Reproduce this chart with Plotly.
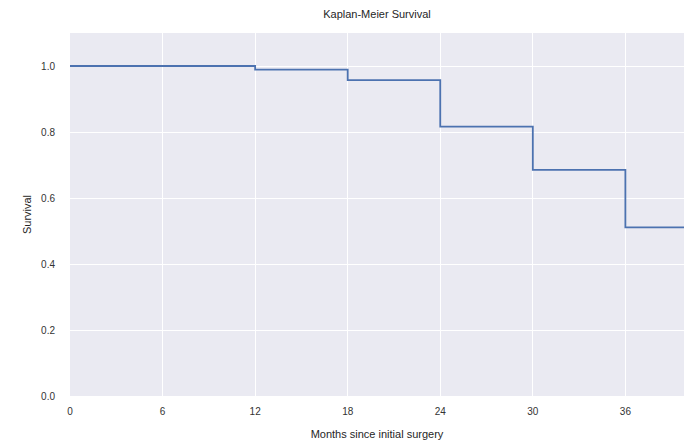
import plotly.graph_objects as go

# Kaplan-Meier survival estimate: step times (months) and survival after each step
months = [0, 12, 18, 24, 30, 36, 39.8]
survival = [1.0, 0.989, 0.957, 0.816, 0.685, 0.511, 0.511]

x_ticks = [0, 6, 12, 18, 24, 30, 36]
y_ticks = [0.0, 0.2, 0.4, 0.6, 0.8, 1.0]

fig = go.Figure()
fig.add_trace(go.Scatter(
    x=months, y=survival,
    mode="lines",
    line=dict(shape="hv", color="#4C72B0", width=1.8),
    showlegend=False,
))

axis_font = dict(family="Liberation Sans, Arial, sans-serif", size=10, color="#333333")

fig.update_layout(
    width=687, height=444,
    margin=dict(l=70, r=3, t=33, b=48),
    paper_bgcolor="white",
    plot_bgcolor="#EAEAF2",
    title=dict(
        text="Kaplan-Meier Survival",
        x=0.5, xanchor="center", xref="paper",
        y=1 - 14 / 444, yanchor="middle",
        font=dict(family="Liberation Sans, Arial, sans-serif", size=11, color="#262626"),
    ),
    font=axis_font,
)
fig.update_xaxes(
    range=[0, 39.8],
    tickvals=x_ticks,
    ticktext=[str(t) for t in x_ticks],
    showgrid=True, gridcolor="white", gridwidth=1.3,
    zeroline=False, showline=False,
    ticks="", ticklabelstandoff=8,
    title=dict(text="Months since initial surgery", standoff=14, font=dict(size=11, color="#262626")),
)
fig.update_yaxes(
    range=[0, 1.1],
    tickvals=y_ticks,
    ticktext=[f"{t:.1f}" for t in y_ticks],
    showgrid=True, gridcolor="white", gridwidth=1.3,
    zeroline=False, showline=False,
    ticks="", ticklabelstandoff=14,
    title=dict(text="Survival", standoff=7, font=dict(size=11, color="#262626")),
)

fig.write_html("out.html")
